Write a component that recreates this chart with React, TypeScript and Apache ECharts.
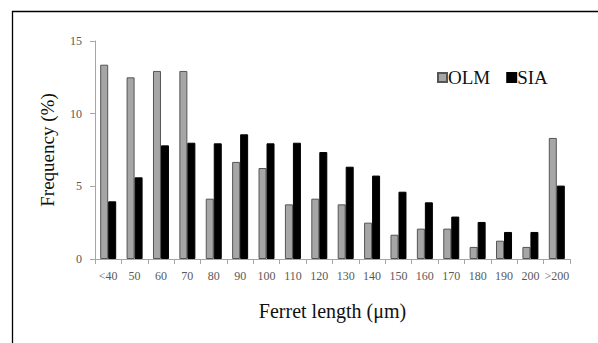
import React, { useEffect, useRef } from "react";
import * as echarts from "echarts";

const categories = ["<40", "50", "60", "70", "80", "90", "100", "110", "120", "130", "140", "150", "160", "170", "180", "190", "200", ">200"];
const olmValues = [13.37, 12.5, 12.94, 12.94, 4.15, 6.68, 6.26, 3.76, 4.15, 3.76, 2.5, 1.67, 2.09, 2.09, 0.83, 1.26, 0.83, 8.33];
const siaValues = [3.97, 5.62, 7.82, 8.0, 7.96, 8.58, 7.96, 8.0, 7.36, 6.35, 5.74, 4.63, 3.9, 2.92, 2.55, 1.86, 1.86, 5.05];
const yTicks = { min: 0, max: 15, interval: 5 };

const FONT = "'Liberation Serif', 'DejaVu Serif', serif";

export default function App() {
  const ref = useRef<HTMLDivElement>(null);
  useEffect(() => {
    if (!ref.current) return;
    const chart = echarts.init(ref.current, null, { renderer: "svg" });
    chart.setOption({
      animation: false,
      backgroundColor: "#ffffff",
      textStyle: { fontFamily: FONT },
      grid: { left: 95, right: 28, top: 41, bottom: 84, containLabel: false },
      legend: {
        left: 432,
        top: 63,
        itemWidth: 9,
        itemHeight: 9,
        itemGap: 16,
        icon: "rect",
        textStyle: { fontFamily: FONT, fontSize: 19, color: "#111", padding: [0, 0, 0, -4] },
        data: ["OLM", "SIA"],
      },
      xAxis: {
        type: "category",
        data: categories,
        name: "Ferret length (μm)",
        nameLocation: "middle",
        nameGap: 42,
        nameTextStyle: { fontFamily: FONT, fontSize: 20, color: "#111" },
        axisLine: { lineStyle: { color: "#a6a6a6", width: 1 } },
        axisTick: { show: true, length: 5, lineStyle: { color: "#a6a6a6" } },
        axisLabel: { interval: 0, fontFamily: FONT, fontSize: 12, color: "#595959", margin: 11 },
      },
      yAxis: {
        type: "value",
        min: yTicks.min,
        max: yTicks.max,
        interval: yTicks.interval,
        name: "Frequency (%)",
        nameLocation: "middle",
        nameGap: 38,
        nameTextStyle: { fontFamily: FONT, fontSize: 19, color: "#111" },
        axisLine: { show: true, lineStyle: { color: "#a6a6a6", width: 1 } },
        axisTick: { show: true, length: 5, lineStyle: { color: "#a6a6a6" } },
        axisLabel: { fontFamily: FONT, fontSize: 12, color: "#595959", margin: 13 },
        splitLine: { show: false },
      },
      series: [
        {
          name: "OLM",
          type: "bar",
          data: olmValues,
          barWidth: 8,
          barGap: "0%",
          itemStyle: { color: "#a6a6a6", borderColor: "#555", borderWidth: 1 },
        },
        {
          name: "SIA",
          type: "bar",
          data: siaValues,
          barWidth: 8,
          barGap: "0%",
          itemStyle: { color: "#000000", borderColor: "#000", borderWidth: 1 },
        },
      ],
      graphic: [
        { type: "line", shape: { x1: 12, y1: 11.5, x2: 598, y2: 11.5 }, style: { stroke: "#000", lineWidth: 1.3 } },
        { type: "line", shape: { x1: 12.5, y1: 11, x2: 12.5, y2: 343 }, style: { stroke: "#000", lineWidth: 1.3 } },
      ],
    });
    return () => chart.dispose();
  }, []);
  return (
    <div
      ref={ref}
      style={{ position: "fixed", left: 0, top: 0, width: 598, height: 343 }}
    />
  );
}
